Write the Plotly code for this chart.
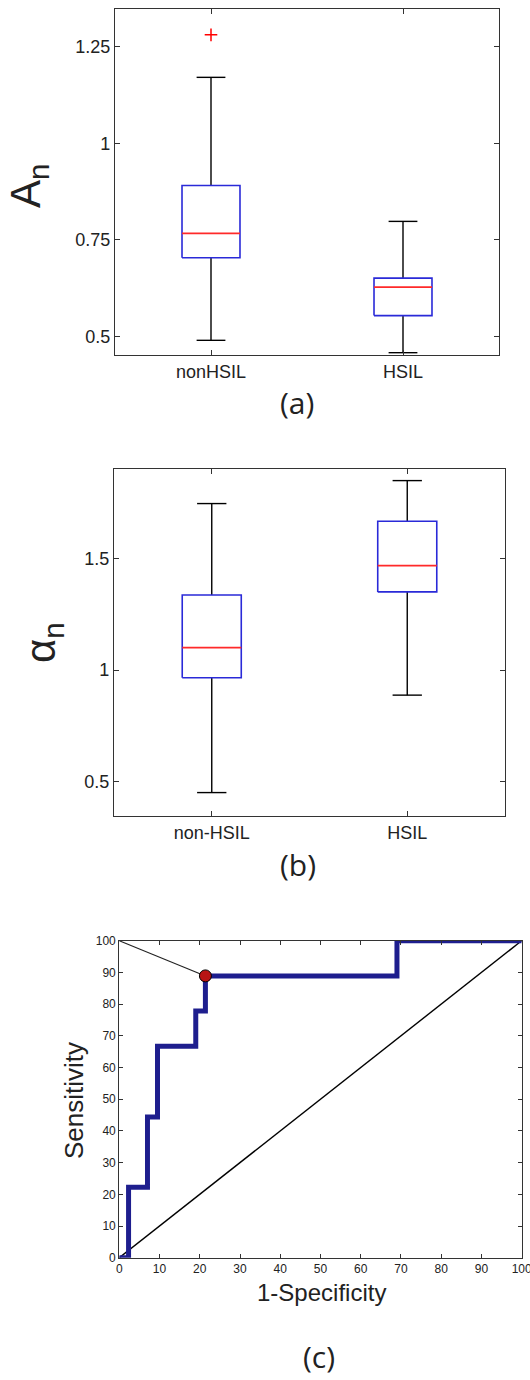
import plotly.graph_objects as go

# ---------------- data ----------------
# Panel (a): A_n
cats_a = ["nonHSIL", "HSIL"]
a_lower = [0.490, 0.458]
a_q1 = [0.704, 0.554]
a_med = [0.767, 0.628]
a_q3 = [0.891, 0.651]
a_upper = [1.171, 0.798]
a_out_cat = [0]          # index of category holding the outlier
a_out_val = [1.281]

# Panel (b): alpha_n
cats_b = ["non-HSIL", "HSIL"]
b_lower = [0.451, 0.888]
b_q1 = [0.966, 1.351]
b_med = [1.101, 1.469]
b_q3 = [1.337, 1.668]
b_upper = [1.747, 1.850]

# Panel (c): ROC curve (1-specificity, sensitivity), %
roc_fpr = [0, 2.3, 2.3, 7.0, 7.0, 9.5, 9.5, 19.0, 19.0, 21.4, 21.4, 69.0, 69.0, 100]
roc_tpr = [0, 0, 22.2, 22.2, 44.4, 44.4, 66.7, 66.7, 77.8, 77.8, 88.9, 88.9, 100, 100]
opt_fpr = [21.4]
opt_tpr = [88.9]
ideal_fpr = [0]
ideal_tpr = [100]
chance = [0, 100]

a_ticks = [0.5, 0.75, 1, 1.25]
b_ticks = [0.5, 1, 1.5]
c_ticks = list(range(0, 101, 10))

# ---------------- style ----------------
W, H = 530, 1380
BOX_HALF = 0.151
CAP_HALF = 0.075
BOX_BLUE = "#2a2ad8"
MED_RED = "#ff2a2a"
ROC_BLUE = "#1e1e8e"
TICKFONT = dict(family="Liberation Sans, Arial", size=18, color="#222")


def pxx(p):
    return p / W


def pxy(p):
    return 1 - p / H


fig = go.Figure()


def add_boxes(lower, q1, med, q3, upper, xa, ya):
    wx, wy, bx, by, mx, my = [], [], [], [], [], []
    for i in range(len(med)):
        pos = i + 1
        # whiskers
        wx += [pos, pos, None, pos, pos, None,
               pos - CAP_HALF, pos + CAP_HALF, None, pos - CAP_HALF, pos + CAP_HALF, None]
        wy += [q3[i], upper[i], None, q1[i], lower[i], None,
               upper[i], upper[i], None, lower[i], lower[i], None]
        # box
        bx += [pos - BOX_HALF, pos + BOX_HALF, pos + BOX_HALF, pos - BOX_HALF, pos - BOX_HALF, None]
        by += [q1[i], q1[i], q3[i], q3[i], q1[i], None]
        # median
        mx += [pos - BOX_HALF, pos + BOX_HALF, None]
        my += [med[i], med[i], None]
    fig.add_trace(go.Scatter(x=wx, y=wy, mode="lines", line=dict(color="black", width=1.4),
                             xaxis=xa, yaxis=ya, showlegend=False, hoverinfo="skip"))
    fig.add_trace(go.Scatter(x=bx, y=by, mode="lines", line=dict(color=BOX_BLUE, width=1.6),
                             xaxis=xa, yaxis=ya, showlegend=False, hoverinfo="skip"))
    fig.add_trace(go.Scatter(x=mx, y=my, mode="lines", line=dict(color=MED_RED, width=1.7),
                             xaxis=xa, yaxis=ya, showlegend=False, hoverinfo="skip"))


add_boxes(a_lower, a_q1, a_med, a_q3, a_upper, "x", "y")
fig.add_trace(go.Scatter(x=[c + 1 for c in a_out_cat], y=a_out_val, mode="markers",
                         marker=dict(symbol="cross-thin", size=9, line=dict(color="red", width=1.5)),
                         xaxis="x", yaxis="y", showlegend=False))
add_boxes(b_lower, b_q1, b_med, b_q3, b_upper, "x2", "y2")

# ROC panel
fig.add_trace(go.Scatter(x=chance, y=chance, mode="lines", line=dict(color="black", width=1.4),
                         xaxis="x3", yaxis="y3", showlegend=False))
fig.add_trace(go.Scatter(x=ideal_fpr + opt_fpr, y=ideal_tpr + opt_tpr, mode="lines",
                         line=dict(color="#222", width=1.1),
                         xaxis="x3", yaxis="y3", showlegend=False))
fig.add_trace(go.Scatter(x=roc_fpr, y=roc_tpr, mode="lines", line=dict(color=ROC_BLUE, width=5),
                         xaxis="x3", yaxis="y3", showlegend=False))
fig.add_trace(go.Scatter(x=opt_fpr, y=opt_tpr, mode="markers",
                         marker=dict(size=12, color="#b81414", line=dict(color="black", width=1)),
                         xaxis="x3", yaxis="y3", showlegend=False, cliponaxis=False))

axis_common = dict(showline=True, linecolor="#333", linewidth=1.2, mirror="allticks",
                   ticks="inside", tickcolor="#333", showgrid=False, zeroline=False,
                   automargin=False)

fig.update_layout(
    template="none",
    width=W, height=H, margin=dict(l=0, r=0, t=0, b=0, autoexpand=False),
    paper_bgcolor="white", plot_bgcolor="white",
    xaxis=dict(domain=[pxx(115), pxx(499)], anchor="y", range=[0.5, 2.5],
               tickvals=[1, 2], ticktext=cats_a, ticklen=5, tickfont=TICKFONT, **axis_common),
    yaxis=dict(domain=[pxy(355), pxy(9)], anchor="x", range=[0.452, 1.348],
               tickvals=a_ticks, ticktext=["0.5", "0.75", "1", "1.25"], ticklen=5,
               tickfont=TICKFONT, **axis_common),
    xaxis2=dict(domain=[pxx(114), pxx(505)], anchor="y2", range=[0.5, 2.5],
                tickvals=[1, 2], ticktext=cats_b, ticklen=5, tickfont=TICKFONT, **axis_common),
    yaxis2=dict(domain=[pxy(816), pxy(469)], anchor="x2", range=[0.346, 1.902],
                tickvals=b_ticks, ticktext=["0.5", "1", "1.5"], ticklen=5,
                tickfont=TICKFONT, **axis_common),
    xaxis3=dict(domain=[pxx(119.3), pxx(521.7)], anchor="y3", range=[0, 100],
                tickvals=c_ticks, ticklen=4, ticklabeloverflow="allow",
                tickfont=dict(family="Liberation Sans, Arial", size=12, color="#222"), **axis_common),
    yaxis3=dict(domain=[pxy(1257.7), pxy(940.7)], anchor="x3", range=[0, 100],
                tickvals=c_ticks, ticklen=4,
                tickfont=dict(family="Liberation Sans, Arial", size=12, color="#222"), **axis_common),
)

ann_font = dict(family="Liberation Sans, Arial", color="#222")
label_font = dict(family="Open Sans", size=30, color="#222")
annotations = [
    dict(text="(a)", x=pxx(297), y=pxy(402), font=label_font),
    dict(text="(b)", x=pxx(298), y=pxy(864), font=label_font),
    dict(text="(c)", x=pxx(319), y=pxy(1356), font=label_font),
    dict(text="A<sub>n</sub>", x=pxx(28), y=pxy(186),
         textangle=-90, font=dict(ann_font, size=42)),
    dict(text="α<sub>n</sub>", x=pxx(44), y=pxy(643),
         textangle=-90, font=dict(ann_font, size=42)),
    dict(text="Sensitivity", x=pxx(74), y=pxy(1101), textangle=-90, font=dict(ann_font, size=26)),
    dict(text="1-Specificity", x=pxx(321), y=pxy(1292), font=dict(ann_font, size=24)),
]
for a in annotations:
    a.update(xref="paper", yref="paper", showarrow=False, xanchor="center", yanchor="middle")
fig.update_layout(annotations=annotations)

fig.write_html("out.html")
